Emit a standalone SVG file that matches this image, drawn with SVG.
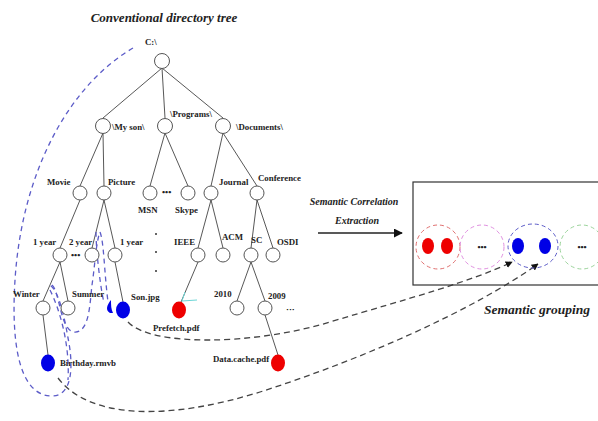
<svg xmlns="http://www.w3.org/2000/svg" width="598" height="421" viewBox="0 0 598 421">
<defs>
<style>
.t{font-family:"Liberation Serif",serif;font-weight:bold;font-size:8.8px;fill:#222}
.ti{font-family:"Liberation Serif",serif;font-weight:bold;font-style:italic;fill:#222}
.n{fill:#fff;stroke:#555;stroke-width:1}
.e{stroke:#444;stroke-width:0.9;fill:none}
.bd{fill:none;stroke:#5c5cc8;stroke-width:1.3;stroke-dasharray:5,4}
.kd{fill:none;stroke:#444;stroke-width:1.3;stroke-dasharray:6,4}
.blue{fill:#0000e6}
.red{fill:#ee0000}
</style>
<marker id="ah" viewBox="0 0 10 10" refX="9" refY="5" markerWidth="7" markerHeight="7" orient="auto" markerUnits="userSpaceOnUse">
<path d="M0,0 L10,5 L0,10 z" fill="#111"/>
</marker>
<marker id="ab" viewBox="0 0 10 10" refX="9" refY="5" markerWidth="9" markerHeight="9" orient="auto" markerUnits="userSpaceOnUse">
<path d="M0,0 L10,5 L0,10 z" fill="#111"/>
</marker>
</defs>
<rect width="598" height="421" fill="#fff"/>
<text class="ti" x="164" y="22" font-size="13" text-anchor="middle">Conventional directory tree</text>

<g id="connectors">
<path class="e" d="M162,68 L103,118 M162,68 L165,118 M162,68 L223,118"/>
<path class="e" d="M103,133 L80,186 M103,133 L104,186 M165,133 L150,186 M165,133 L188,186 M223,133 L211,186 M223,133 L257,186"/>
<path class="e" d="M80,200 L60,248 M104,200 L92,248 M104,200 L115,248 M211,200 L198,248 M211,200 L223,248 M257,200 L251,248 M257,200 L273,248"/>
<path class="e" d="M60,262 L43,301 M60,262 L68,301 M115,262 L123,302 M198,262 L181,302 M251,262 L237,301 M251,262 L265,301"/>
<path class="e" d="M43,315 L48,355 M265,315 L278,355"/>
<path d="M185,292 L182,301 L197,300" fill="none" stroke="#6cd6d6" stroke-width="1"/>
<path class="bd" d="M133,48 C70,85 22,170 15,280 C10,360 25,396 52,396 C74,396 73,362 68,338 C63,308 57,290 50,285"/>
<path class="bd" d="M52,285 C60,292 60,330 74,332 C90,334 90,300 92,285 C95,265 96,242 100,232 C104,242 104,270 108,302"/>
<path class="bd" d="M96,232 C96,250 100,285 104,303"/>
<path class="bd" d="M50,290 C60,310 70,345 68,380"/>
<path class="kd" d="M128,322 C150,346 250,346 330,322 C410,298 470,282 512,262" marker-end="url(#ah)"/>
<path class="kd" d="M58,378 C90,420 170,420 260,392 C360,360 470,312 538,264" marker-end="url(#ah)"/>
<path d="M318,233 L402,233" stroke="#222" stroke-width="1.6" marker-end="url(#ab)"/>
</g>

<g id="root"><text class="t" x="145" y="45">C:\</text><circle class="n" cx="162" cy="61" r="7.5"/></g>
<g id="myson"><circle class="n" cx="103" cy="126" r="7.5"/><text class="t" x="112" y="130">\My son\</text></g>
<g id="programs"><circle class="n" cx="165" cy="126" r="7.5"/><text class="t" x="170" y="117">\Programs\</text></g>
<g id="documents"><circle class="n" cx="223" cy="126" r="7.5"/><text class="t" x="236" y="130">\Documents\</text></g>

<g id="movie"><circle class="n" cx="80" cy="193" r="7"/><text class="t" x="47" y="185">Movie</text></g>
<g id="picture"><circle class="n" cx="104" cy="193" r="7"/><text class="t" x="108" y="185">Picture</text></g>
<g id="msn"><circle class="n" cx="150" cy="193" r="7"/><text class="t" x="138" y="213">MSN</text></g>
<g id="dots1"><text class="t" x="162" y="195">•••</text></g>
<g id="skype"><circle class="n" cx="188" cy="193" r="7"/><text class="t" x="175" y="213">Skype</text></g>
<g id="journal"><circle class="n" cx="211" cy="193" r="7"/><text class="t" x="219" y="185">Journal</text></g>
<g id="conference"><circle class="n" cx="257" cy="193" r="7"/><text class="t" x="258" y="181">Conference</text></g>

<g id="year1a"><circle class="n" cx="60" cy="255" r="7"/><text class="t" x="33" y="245">1 year</text></g>
<g id="dots2"><text class="t" x="71" y="258">•••</text></g>
<g id="year2"><circle class="n" cx="92" cy="255" r="7"/><text class="t" x="69" y="245">2 year</text></g>
<g id="year1b"><circle class="n" cx="115" cy="255" r="7"/><text class="t" x="120" y="245">1 year</text></g>
<g id="vdots"><circle cx="156" cy="234" r="1" fill="#333"/><circle cx="156" cy="252" r="1" fill="#333"/><circle cx="156" cy="271" r="1" fill="#333"/></g>
<g id="ieee"><circle class="n" cx="198" cy="255" r="7"/><text class="t" x="174" y="245">IEEE</text></g>
<g id="acm"><circle class="n" cx="223" cy="255" r="7"/><text class="t" x="222" y="240">ACM</text></g>
<g id="sc"><circle class="n" cx="251" cy="255" r="7"/><text class="t" x="251" y="243">SC</text></g>
<g id="osdi"><circle class="n" cx="273" cy="255" r="7"/><text class="t" x="277" y="245">OSDI</text></g>

<g id="winter"><circle class="n" cx="43" cy="308" r="7"/><text class="t" x="13" y="297">Winter</text></g>
<g id="summer"><circle class="n" cx="68" cy="308" r="7"/><text class="t" x="72" y="297">Summer</text></g>
<g id="sonpartial"><path d="M111,300 C107,305 105,310 110,313 L113,313 C111,309 111,305 111,300 z" class="blue"/></g>
<g id="sonjpg"><ellipse class="blue" cx="123" cy="310" rx="7" ry="8.5"/><text class="t" x="131" y="300">Son.jpg</text></g>
<g id="prefetch"><ellipse class="red" cx="179" cy="310" rx="7" ry="8.5"/><text class="t" x="153" y="331">Prefetch.pdf</text></g>
<g id="y2010"><circle class="n" cx="237" cy="308" r="7"/><text class="t" x="214" y="297">2010</text></g>
<g id="y2009"><circle class="n" cx="265" cy="308" r="7"/><text class="t" x="268" y="299">2009</text></g>
<g id="dots3"><text class="t" x="286" y="312">···</text></g>
<g id="birthday"><ellipse class="blue" cx="48" cy="363" rx="7" ry="8.5"/><text class="t" x="60" y="366">Birthday.rmvb</text></g>
<g id="datacache"><ellipse class="red" cx="278" cy="363" rx="7" ry="8.5"/><text class="t" x="213" y="362">Data.cache.pdf</text></g>

<g id="extraction"><text class="ti" x="354" y="205" font-size="10" text-anchor="middle">Semantic Correlation</text><text class="ti" x="357" y="224" font-size="10" text-anchor="middle">Extraction</text></g>

<g id="grouping">
<rect x="413" y="182" width="200" height="103" fill="none" stroke="#333" stroke-width="1.2"/>
<circle cx="438" cy="247" r="22" fill="none" stroke="#e07070" stroke-width="1" stroke-dasharray="4,3"/>
<ellipse class="red" cx="428" cy="246" rx="6" ry="8"/>
<ellipse class="red" cx="447" cy="246" rx="6" ry="8"/>
<circle cx="482" cy="247" r="22" fill="none" stroke="#e090e0" stroke-width="1" stroke-dasharray="4,3"/>
<text class="t" x="482" y="250" text-anchor="middle">•••</text>
<ellipse cx="533" cy="246" rx="25" ry="22" fill="none" stroke="#5c5cc8" stroke-width="1" stroke-dasharray="4,3"/>
<ellipse class="blue" cx="518" cy="246" rx="6" ry="8"/>
<ellipse class="blue" cx="545" cy="246" rx="6" ry="8"/>
<circle cx="582" cy="247" r="22" fill="none" stroke="#9cd49c" stroke-width="1" stroke-dasharray="4,3"/>
<text class="t" x="582" y="250" text-anchor="middle">•••</text>
</g>
<text class="ti" x="537" y="314" font-size="13.5" text-anchor="middle">Semantic grouping</text>
</svg>
